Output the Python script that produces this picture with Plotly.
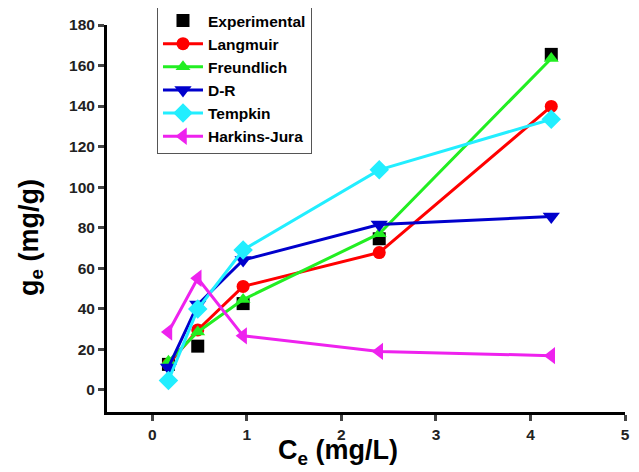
import plotly.graph_objects as go

ce = [0.17, 0.48, 0.96, 2.40, 4.22]
experimental = [12.5, 21.5, 42.5, 74.5, 165.5]
langmuir = [12.5, 29.5, 51.0, 67.7, 139.8]
freundlich = [14.0, 28.5, 44.5, 77.0, 163.5]
dr = [11.0, 42.0, 64.0, 81.5, 85.5]
tempkin = [4.6, 39.8, 69.0, 108.5, 133.5]
harkins = [28.5, 55.0, 26.6, 18.9, 16.8]

x_ticks = [0, 1, 2, 3, 4, 5]
y_ticks = [0, 20, 40, 60, 80, 100, 120, 140, 160, 180]

series = [
    ("Langmuir", langmuir, "#FF0000", "circle", 13),
    ("Freundlich", freundlich, "#22EE22", "triangle-up", 13),
    ("D-R", dr, "#0000CC", "triangle-down", 15),
    ("Tempkin", tempkin, "#22EEFF", "diamond", 15),
    ("Harkins-Jura", harkins, "#EE22EE", "triangle-left", 15),
]

fig = go.Figure()
fig.add_trace(go.Scatter(x=ce, y=experimental, mode="markers", name="<b>Experimental</b>",
                         marker=dict(symbol="square", size=13, color="black")))
for name, vals, col, sym, sz in series:
    fig.add_trace(go.Scatter(x=ce, y=vals, mode="lines+markers", name="<b>" + name + "</b>",
                             line=dict(color=col, width=3),
                             marker=dict(symbol=sym, size=sz, color=col)))

font = "Arial, Liberation Sans, sans-serif"
# page body has an 8px margin, so the figure is 8px smaller than the window
fig.update_layout(
    width=631, height=464,
    margin=dict(l=99, r=14, t=17, b=60, autoexpand=False),
    plot_bgcolor="white", paper_bgcolor="white",
    showlegend=True,
    legend=dict(x=0.0965, y=1.057, xanchor="left", yanchor="top",
                bordercolor="#555555", borderwidth=1, bgcolor="rgba(255,255,255,0)",
                font=dict(family=font, size=15.5, color="black"),
                tracegroupgap=0, itemwidth=40),
    font=dict(family=font, color="black"),
    annotations=[
        dict(text="<b>C<sub>e</sub> (mg/L)</b>", xref="paper", yref="paper",
             x=0.446, y=-0.104, xanchor="center", yanchor="middle", showarrow=False,
             font=dict(family=font, size=27, color="black")),
        dict(text="<b>g<sub>e</sub> (mg/g)</b>", xref="paper", yref="paper",
             x=-0.147, y=0.452, xanchor="center", yanchor="middle", showarrow=False,
             textangle=-90, font=dict(family=font, size=27, color="black")),
    ],
)
fig.update_xaxes(range=[-0.48, 5.0], tickvals=x_ticks,
                 ticktext=["<b>%d</b>" % v for v in x_ticks],
                 ticks="outside", ticklen=6, tickwidth=2.5, automargin=False,
                 showline=True, linewidth=3, linecolor="black", showgrid=False, zeroline=False,
                 tickfont=dict(family=font, size=15.5, color="#222"))
fig.update_yaxes(range=[-11, 180], tickvals=y_ticks,
                 ticktext=["<b>%d</b>" % v for v in y_ticks],
                 ticks="outside", ticklen=6, tickwidth=2.5, automargin=False,
                 showline=True, linewidth=3, linecolor="black", showgrid=False, zeroline=False,
                 tickfont=dict(family=font, size=15.5, color="#222"))

fig.write_html("out.html")
